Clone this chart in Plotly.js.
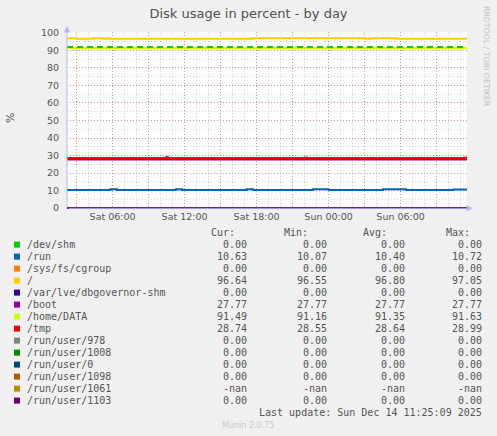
<!DOCTYPE html>
<html><head><meta charset="utf-8">
<script src="https://cdn.plot.ly/plotly-3.0.1.min.js"></script>
<style>html,body{margin:0;padding:0;background:#F0F0F0;}#chart{width:497px;height:436px;}</style>
</head><body><div id="chart"></div>
<script>
// ---------- data ----------
const chartTitle = 'Disk usage in percent - by day';
const yLabel = '%';
const xStart = '2025-12-13 02:12';
const xEnd = '2025-12-14 11:32';
const xLabelTimes = ['2025-12-13 06:00','2025-12-13 12:00','2025-12-13 18:00','2025-12-14 00:00','2025-12-14 06:00'];
const xLabelText = ['Sat 06:00','Sat 12:00','Sat 18:00','Sun 00:00','Sun 06:00'];
const yTickVals = [0,10,20,30,40,50,60,70,80,90,100];

const seriesNames = ['/dev/shm','/run','/sys/fs/cgroup','/','/var/lve/dbgovernor-shm','/boot','/home/DATA','/tmp','/run/user/978','/run/user/1008','/run/user/0','/run/user/1098','/run/user/1061','/run/user/1103'];
const seriesColors = ['#00CC00','#0066B3','#FF8000','#FFCC00','#330099','#990099','#CCFF00','#FF0000','#808080','#008F00','#00487D','#B35A00','#B38F00','#6B006B'];
const curVals = ['0.00','10.63','0.00','96.64','0.00','27.77','91.49','28.74','0.00','0.00','0.00','0.00','-nan','0.00'];
const minVals = ['0.00','10.07','0.00','96.55','0.00','27.77','91.16','28.55','0.00','0.00','0.00','0.00','-nan','0.00'];
const avgVals = ['0.00','10.40','0.00','96.80','0.00','27.77','91.35','28.64','0.00','0.00','0.00','0.00','-nan','0.00'];
const maxVals = ['0.00','10.72','0.00','97.05','0.00','27.77','91.63','28.99','0.00','0.00','0.00','0.00','-nan','0.00'];
const lastUpdate = 'Last update: Sun Dec 14 11:25:09 2025';
const footer = 'Munin 2.0.75';
const sideText = 'RRDTOOL / TOBI OETIKER';

// step series (time of change, value)
const flatTimes = [xStart, xEnd];
const zeroVals = [0, 0];
const runTimes = ['2025-12-13 02:12','2025-12-13 05:49','2025-12-13 06:22','2025-12-13 11:17','2025-12-13 11:47','2025-12-13 17:12','2025-12-13 17:43','2025-12-13 22:43','2025-12-14 00:00','2025-12-14 04:32','2025-12-14 06:28','2025-12-14 10:23','2025-12-14 11:32'];
const runVals  = [10.3,10.7,10.3,10.7,10.3,10.7,10.3,10.7,10.3,10.7,10.3,10.63,10.63];
const rootTimes = ['2025-12-13 02:12','2025-12-13 03:00','2025-12-13 04:00','2025-12-13 04:25','2025-12-13 05:12','2025-12-13 05:32','2025-12-13 05:48','2025-12-13 17:38','2025-12-14 03:04','2025-12-14 03:32','2025-12-14 05:36','2025-12-14 11:32'];
const rootVals  = [97.0,96.6,96.8,97.0,96.6,97.0,96.6,97.0,96.6,97.0,96.64,96.64];
const bootVals = [27.77, 27.77];
const homeVals = [91.35, 91.35];
const tmpTimes = ['2025-12-13 02:12','2025-12-13 10:27','2025-12-13 10:37','2025-12-13 21:59','2025-12-13 22:09','2025-12-14 11:20','2025-12-14 11:32'];
const tmpVals  = [28.6,28.99,28.6,28.95,28.6,28.74,28.74];
const warnVals = [92, 92];

// ---------- geometry helpers (page pixels -> paper) ----------
const M = {l:67, r:30, t:32, b:227};
const PW = 497 - M.l - M.r, PH = 436 - M.t - M.b;
const px = x => (x - M.l) / PW;
const py = y => (M.t + PH - y) / PH;

// ---------- traces ----------
function line(x, y, color, extra) {
  return Object.assign({type:'scatter', mode:'lines', x:x, y:y, line:{color:color, width:2, shape:'hv'}, hoverinfo:'skip', showlegend:false}, extra||{});
}
const seriesData = {
  '/dev/shm':[flatTimes, zeroVals], '/run':[runTimes, runVals], '/sys/fs/cgroup':[flatTimes, zeroVals],
  '/':[rootTimes, rootVals], '/var/lve/dbgovernor-shm':[flatTimes, zeroVals], '/boot':[flatTimes, bootVals],
  '/home/DATA':[flatTimes, homeVals], '/tmp':[tmpTimes, tmpVals], '/run/user/978':[flatTimes, zeroVals],
  '/run/user/1008':[flatTimes, zeroVals], '/run/user/0':[flatTimes, zeroVals], '/run/user/1098':[flatTimes, zeroVals],
  '/run/user/1103':[flatTimes, zeroVals]
};
const traces = [];
seriesNames.forEach((n, i) => {
  if (seriesData[n]) traces.push(line(seriesData[n][0], seriesData[n][1], seriesColors[i]));
});
traces.push(line(flatTimes, warnVals, '#00CC00', {line:{color:'#00CC00', width:2, dash:'6px,4px'}}));

// ---------- x grid ticks every 3h, labels every 6h ----------
function fmt(ms){ const d=new Date(ms); const p=v=>String(v).padStart(2,'0');
  return d.getUTCFullYear()+'-'+p(d.getUTCMonth()+1)+'-'+p(d.getUTCDate())+' '+p(d.getUTCHours())+':'+p(d.getUTCMinutes()); }
const tickvals = [], ticktext = [];
const base = Date.UTC(2025, 11, 13, 3, 0);
for (let i = 0; i < 11; i++) {
  const s = fmt(base + i * 3 * 3600000);
  tickvals.push(s);
  const k = xLabelTimes.indexOf(s);
  ticktext.push(k >= 0 ? xLabelText[k] : '');
}

// ---------- annotations / shapes ----------
const txtCol = '#555555';
const mono = 'DejaVu Sans Mono';
const ann = [], shapes = [];
function A(text, x, y, xanchor, size, color, fam, extra) {
  ann.push(Object.assign({text:text, x:px(x), y:py(y), xref:'paper', yref:'paper', xanchor:xanchor, yanchor:'middle',
    showarrow:false, borderpad:0, borderwidth:0, font:{family:fam||mono, size:size||10, color:color||txtCol}}, extra||{}));
}
const colRight = [247.3, 326.7, 405, 482.3];
const headRight = [235, 308, 386.7, 470];
['Cur:','Min:','Avg:','Max:'].forEach((h, j) => A(h, headRight[j], 232.5, 'right'));
seriesNames.forEach((n, i) => {
  const y = 244.6 + 12 * i;
  shapes.push({type:'rect', xref:'paper', yref:'paper', x0:px(14), x1:px(20), y0:py(y+3), y1:py(y-3), fillcolor:seriesColors[i], line:{width:0}});
  A(n, 26.7, y, 'left');
  [curVals, minVals, avgVals, maxVals].forEach((arr, j) => A(arr[i], colRight[j], y, 'right'));
});
A(lastUpdate, 482.3, 412, 'right');
A(footer, 248.3, 425, 'center', 8, '#C8C8C8', 'DejaVu Sans');
A(yLabel, 10, 118, 'center', 11, txtCol, 'DejaVu Sans', {textangle:-90});
A(sideText, 487, 56, 'center', 7.8, '#C0C0C0', 'DejaVu Sans', {textangle:90});
// axis arrows
ann.push({text:'', xref:'paper', yref:'paper', x:px(67), y:py(26), ax:0, ay:183, showarrow:true, arrowhead:2, arrowsize:1.3, arrowwidth:1, arrowcolor:'#B8B8F4'});
ann.push({text:'', xref:'paper', yref:'paper', x:px(473), y:py(208.3), ax:-406, ay:0, showarrow:true, arrowhead:2, arrowsize:1.3, arrowwidth:1, arrowcolor:'#B8B8F4'});

const layout = {
  width:497, height:436, margin:M,
  paper_bgcolor:'#F0F0F0', plot_bgcolor:'#FFFFFF',
  title:{text:chartTitle, x:0.5, xanchor:'center', y:1-13/436, yanchor:'middle', font:{family:'DejaVu Sans', size:13, color:'#505050'}},
  showlegend:false,
  xaxis:{type:'date', range:[xStart, xEnd], tickmode:'array', tickvals:tickvals, ticktext:ticktext,
    showgrid:true, gridcolor:'rgba(255,0,0,0.32)', griddash:'1px,2px', gridwidth:1,
    minor:{dtick:3600000, tick0:'2025-12-13 00:00', showgrid:true, gridcolor:'rgba(140,140,140,0.35)', griddash:'1px,2px', gridwidth:1},
    ticks:'', zeroline:false, showline:false, fixedrange:true,
    tickfont:{family:'DejaVu Sans', size:9.5, color:txtCol}},
  yaxis:{range:[-0.5, 100.5], tickmode:'array', tickvals:yTickVals,
    showgrid:true, gridcolor:'rgba(255,0,0,0.32)', griddash:'1px,2px', gridwidth:1,
    minor:{dtick:5, tick0:0, showgrid:true, gridcolor:'rgba(140,140,140,0.35)', griddash:'1px,2px', gridwidth:1},
    ticks:'outside', ticklen:0, ticklabelstandoff:5, zeroline:false, showline:false, fixedrange:true,
    tickfont:{family:'DejaVu Sans', size:9.5, color:txtCol}},
  annotations:ann, shapes:shapes
};
Plotly.newPlot('chart', traces, layout, {displayModeBar:false, staticPlot:true});
</script></body></html>
